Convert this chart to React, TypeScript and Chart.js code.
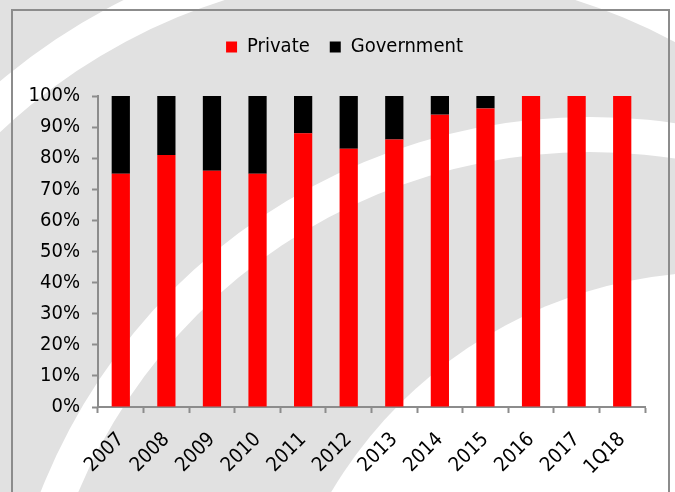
import React, { useEffect, useRef } from "react";
import { Chart, registerables } from "chart.js";

Chart.register(...registerables);

const categories = ["2007", "2008", "2009", "2010", "2011", "2012", "2013", "2014", "2015", "2016", "2017", "1Q18"];
const privateShare = [75, 81, 76, 75, 88, 83, 86, 94, 96, 100, 100, 100];
const governmentShare = [25, 19, 24, 25, 12, 17, 14, 6, 4, 0, 0, 0];
const yTickStep = 10;
const yMax = 100;

const FONT = "'DejaVu Sans Condensed', 'DejaVu Sans', sans-serif";
const AXIS_GRAY = "#8c8c8c";

const backgroundPlugin = {
  id: "bgSwoosh",
  beforeDraw(chart: any) {
    const ctx = chart.ctx as CanvasRenderingContext2D;
    const w = chart.width;
    const h = chart.height;
    ctx.save();
    ctx.fillStyle = "#e1e1e1";
    ctx.fillRect(0, 0, w, h);
    ctx.fillStyle = "#ffffff";
    // outer band
    ctx.beginPath();
    ctx.arc(400, 555, 620, 0, Math.PI * 2);
    ctx.arc(400, 555, 582, 0, Math.PI * 2, true);
    ctx.fill("evenodd");
    // middle band
    ctx.beginPath();
    ctx.arc(590, 707, 590, 0, Math.PI * 2);
    ctx.arc(590, 707, 555, 0, Math.PI * 2, true);
    ctx.fill("evenodd");
    // inner disk
    ctx.beginPath();
    ctx.arc(718, 722, 450, 0, Math.PI * 2);
    ctx.fill();
    // frame
    ctx.strokeStyle = AXIS_GRAY;
    ctx.lineWidth = 2;
    ctx.strokeRect(12, 10, 657, 500);
    ctx.restore();
  },
};

const legendShiftPlugin = {
  id: "legendShift",
  afterLayout(chart: any) {
    const l = chart.legend;
    if (l) {
      l.left += 22;
      l.right += 22;
    }
  },
};

export default function App() {
  const ref = useRef<HTMLCanvasElement | null>(null);
  useEffect(() => {
    if (!ref.current) return;
    const chart = new Chart(ref.current, {
      type: "bar",
      data: {
        labels: categories,
        datasets: [
          { label: "Private", data: privateShare, backgroundColor: "#ff0000", borderWidth: 0 },
          { label: "Government", data: governmentShare, backgroundColor: "#000000", borderWidth: 0 },
        ],
      },
      options: {
        responsive: false,
        animation: false,
        datasets: { bar: { barPercentage: 0.4, categoryPercentage: 1 } },
        layout: { padding: { left: 0, right: 30, top: 17, bottom: 0 } },
        plugins: {
          legend: {
            position: "top",
            labels: {
              boxWidth: 11,
              boxHeight: 11,
              padding: 20,
              color: "#000",
              font: { family: FONT, size: 20 },
            },
          },
          subtitle: {
            display: true,
            text: " ",
            position: "top",
            weight: 500,
            font: { size: 10 },
            padding: { top: 17, bottom: 0 },
          } as any,
          tooltip: { enabled: false },
        },
        scales: {
          x: {
            stacked: true,
            afterFit: (s: any) => {
              s.height = 85;
            },
            grid: {
              offset: true,
              drawOnChartArea: false,
              drawTicks: true,
              tickLength: 6,
              tickColor: AXIS_GRAY,
              tickWidth: 2,
            },
            border: { display: true, color: AXIS_GRAY, width: 2 },
            ticks: {
              color: "#000",
              font: { family: FONT, size: 20 },
              minRotation: 45,
              maxRotation: 45,
              autoSkip: false,
              padding: 15,
            },
          },
          y: {
            stacked: true,
            min: 0,
            max: yMax,
            afterFit: (s: any) => {
              s.width = 98;
            },
            grid: {
              drawOnChartArea: false,
              drawTicks: true,
              tickLength: 6,
              tickColor: AXIS_GRAY,
              tickWidth: 2,
            },
            border: { display: true, color: AXIS_GRAY, width: 2 },
            ticks: {
              stepSize: yTickStep,
              color: "#000",
              padding: 12,
              font: { family: FONT, size: 20 },
              callback: (v: any) => v + "%",
            },
          },
        },
      },
      plugins: [backgroundPlugin, legendShiftPlugin],
    });
    return () => chart.destroy();
  }, []);
  return (
    <div style={{ position: "absolute", left: 0, top: 0, width: 675, height: 492 }}>
      <canvas ref={ref} width={675} height={492} style={{ display: "block" }} />
    </div>
  );
}
